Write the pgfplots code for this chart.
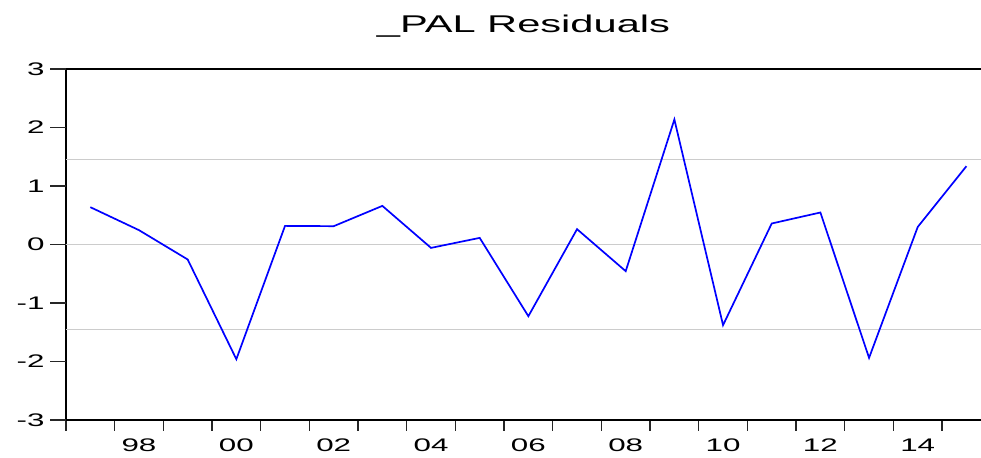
\documentclass[border=0pt]{standalone}
\usepackage{fontspec}
\setmainfont{Liberation Sans}[FakeStretch=1.72]
\usepackage{pgfplots}
\pgfplotsset{compat=1.18}

\begin{document}
\begin{tikzpicture}
\begin{axis}[
    name=ax,
    scale only axis,
    width=915pt, height=351pt,
    xmin=1996.5, xmax=2015.30,
    ymin=-3, ymax=3,
    axis x line=box, axis y line*=left,
    xtick pos=bottom, ytick pos=left,
    axis line style={black, line width=1.6pt},
    tick align=outside,
    major tick length=11pt,
    tick style={black!85, line width=1.3pt},
    xtick={1996.5,1997.5,...,2015.5},
    x tick label as interval,
    xticklabels={,98,,00,,02,,04,,06,,08,,10,,12,,14,,},
    xticklabel style={yshift=-4pt},
    ytick=\empty,
    extra y ticks={-3,-2,-1,0,1,2,3},
    extra y tick labels={-3,-2,-1,0,1,2,3},
    extra y tick style={major tick length=16pt},
    tick label style={font=\fontsize{18.2}{20}\selectfont, black},
    yticklabel style={xshift=-2pt},
    title={\_PAL Residuals},
    title style={font=\fontsize{24.2}{28}\selectfont, at={(0.5,1)}, anchor=base, yshift=30pt},
    clip=false,
]
% standard error bands and zero line
\addplot[black!20, line width=1.2pt] coordinates {(1996.5,1.455) (2015.3,1.455)};
\addplot[black!20, line width=1.2pt] coordinates {(1996.5,0) (2015.3,0)};
\addplot[black!20, line width=1.2pt] coordinates {(1996.5,-1.455) (2015.3,-1.455)};
% residuals
\addplot[blue, line width=1.7pt] coordinates {
    (1997, 0.638)
    (1998, 0.245)
    (1999, -0.256)
    (2000, -1.961)
    (2001, 0.318)
    (2002, 0.313)
    (2003, 0.660)
    (2004, -0.058)
    (2005, 0.113)
    (2006, -1.226)
    (2007, 0.262)
    (2008, -0.456)
    (2009, 2.137)
    (2010, -1.379)
    (2011, 0.359)
    (2012, 0.547)
    (2013, -1.938)
    (2014, 0.300)
    (2015, 1.338)
};
\end{axis}
\pgfresetboundingbox
\path[use as bounding box] ([shift={(-66pt,-38pt)}]ax.south west) rectangle ([shift={(0pt,69pt)}]ax.north east);
\end{tikzpicture}
\end{document}
